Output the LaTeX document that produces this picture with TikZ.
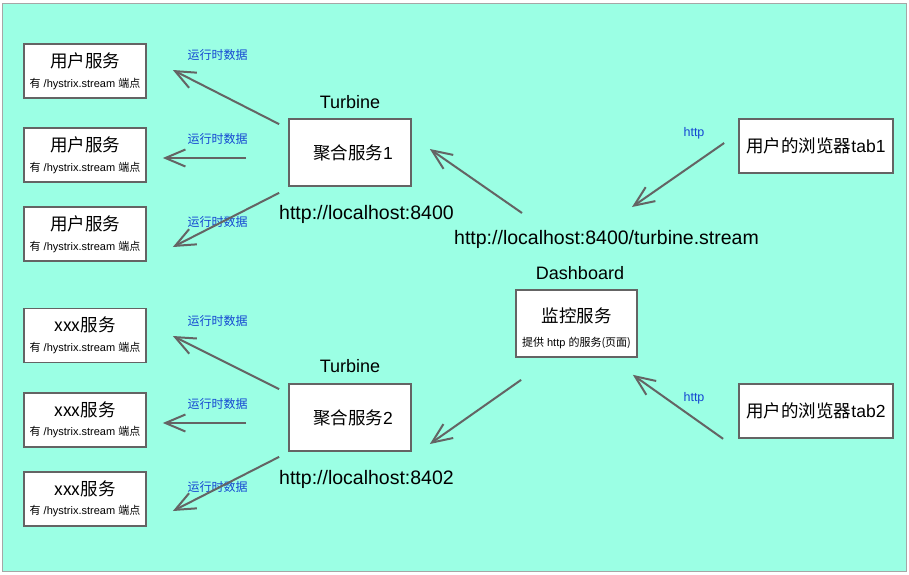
\documentclass[tikz,border=0pt]{standalone}
\usepackage{fontspec}
\setmainfont{Liberation Sans}
\newfontfamily\cjk{Noto Sans CJK SC}
\usetikzlibrary{arrows.meta,calc}
\definecolor{bgaqua}{RGB}{155,255,228}
\definecolor{linegray}{RGB}{100,100,100}
\definecolor{lblblue}{RGB}{20,70,210}

\begin{document}
\begin{tikzpicture}[x=1pt,y=-1pt]
	\useasboundingbox (0,0) rectangle (909,574);
	\draw[fill=bgaqua, draw=gray!70, line width=1pt] (2.5,3.5) rectangle (906,571);
	% Define the box styles
	\tikzstyle{svcbox} = [draw=linegray, fill=white, line width=1.7pt, minimum width=122pt, minimum height=54pt, align=center, inner sep=0pt];
	\tikzstyle{aggbox} = [svcbox, minimum height=67pt, font=\fontsize{17.5}{21}\selectfont];
	\tikzstyle{webbox} = [svcbox, minimum width=154pt, font=\fontsize{17.5}{21}\selectfont];
	\tikzstyle{big} = [font=\fontsize{18}{21}\selectfont];
	\tikzstyle{url} = [font=\fontsize{19.5}{22}\selectfont];
	\tikzstyle{tag} = [text=lblblue, font=\fontsize{12}{14}\selectfont];
	\tikzstyle{flow} = [draw=linegray, line width=2pt, -{Straight Barb[length=20pt,width=17pt]}];
	
	% Service boxes on the left
	\foreach \n/\y/\t in {u1/71/用户服务, u2/155/用户服务, u3/234/用户服务, x1/335.5/xxx服务, x2/420/xxx服务, x3/499/xxx服务}
	\node[svcbox] (\n) at (85,\y) {{\cjk\fontsize{17.5}{21}\selectfont \t}\\[7.5pt]{\fontsize{11}{13}\selectfont{\cjk 有} /hystrix.stream {\cjk 端点}}};
	
	% Labels on the data arrows
	\foreach \n/\y in {d1/55, d2/138.5, d3/222, d4/321, d5/404, d6/487}
	\node[tag] (\n) at (217.5,\y) {\cjk 运行时数据};
	
	% Turbine boxes
	\node[aggbox] (t1) at (350,152.5) {\hspace{6pt}{\cjk 聚合服务}1};
	\node[aggbox] (t2) at (350,417.5) {\hspace{6pt}{\cjk 聚合服务}2};
	\node[big] (tb1) at (350,102) {Turbine};
	\node[big] (tb2) at (350,366.5) {Turbine};
	\node[url] (url1) at (366.5,214) {http://localhost:8400};
	\node[url] (url2) at (366.5,479) {http://localhost:8402};
	
	% Dashboard
	\node[aggbox, minimum width=121pt] (dash) at (576.5,323.5) {\rule{0pt}{24.5pt}{\cjk 监控服务}\\[2.5pt]{\fontsize{11}{13}\selectfont{\cjk 提供} http {\cjk 的服务(页面)}}};
	\node[big] (dlbl) at (580,273.5) {Dashboard};
	\node[url] (stream) at (606.5,239) {http://localhost:8400/turbine.stream};
	
	% Browser tabs
	\node[webbox] (tab1) at (816,146) {{\cjk 用户的浏览器}tab1};
	\node[webbox] (tab2) at (816,411) {{\cjk 用户的浏览器}tab2};
	\node[tag, font=\fontsize{12.5}{14}\selectfont] (h1) at (694,133) {http};
	\node[tag, font=\fontsize{12.5}{14}\selectfont] (h2) at (694,398) {http};
	
	% Arrows
	\draw[flow] ($(t1.north west)+(-9,6)$) -- ($(u1.east)+(26,-1)$);
	\draw[flow] ($(t1.west)+(-42,5.5)$) -- ($(u2.east)+(16,3)$);
	\draw[flow] ($(t1.south west)+(-9,6)$) -- ($(u3.east)+(26,13)$);
	\draw[flow] ($(t2.north west)+(-9,6)$) -- ($(x1.east)+(26,0.5)$);
	\draw[flow] ($(t2.west)+(-42,5.5)$) -- ($(x2.east)+(16,3)$);
	\draw[flow] ($(t2.south west)+(-9,5)$) -- ($(x3.east)+(26,12)$);
	\draw[flow] ($(stream)+(-84.5,-26)$) -- ($(t1.east)+(18,-3.5)$);
	\draw[flow] ($(tab1.west)+(-14,-3)$) -- ($(stream)+(25.5,-32)$);
	\draw[flow] ($(dash.south west)+(6,22)$) -- ($(t2.east)+(18,26.5)$);
	\draw[flow] ($(tab2.south west)+(-15,0)$) -- ($(dash.south east)+(-5,17)$);
\end{tikzpicture}
\end{document}
